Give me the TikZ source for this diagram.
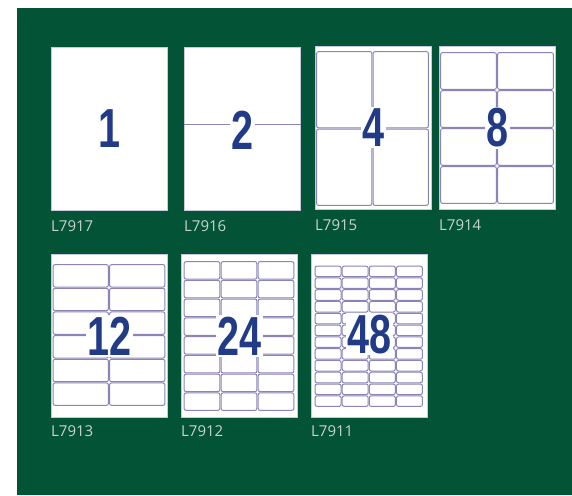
\documentclass[tikz,border=0pt]{standalone}
\usepackage{fontspec}
\setsansfont{Open Sans}
\newfontfamily\numfont[FakeStretch=0.72]{Liberation Sans}
\usepackage{tikz}
\usetikzlibrary{positioning}
\definecolor{cGreen}{HTML}{035437}
\definecolor{cNavy}{HTML}{213B86}
\definecolor{cLine}{HTML}{8A84BA}
\definecolor{cCode}{HTML}{C9D3CE}
\tikzset{
  sheet/.style={
    rectangle, draw=cLine!45, line width=0.6pt, fill=white,
    minimum width=116pt, minimum height=163pt, inner sep=0pt,
    anchor=north west
  },
  cell/.style={draw=cLine, line width=1pt, rounded corners=2pt},
  num/.style={
    font={\numfont\bfseries\fontsize{55pt}{55pt}\selectfont},
    text=cNavy, fill=white, inner sep=1.5pt
  },
  code/.style={
    font={\sffamily\fontsize{15pt}{15pt}\selectfont},
    text=cCode, inner sep=0pt
  },
}
% grid of labels: x0, y0, x1, y1, columns, rows
\newcommand{\cellgrid}[6]{%
  \pgfmathsetmacro\cw{(#3-#1)/#5}%
  \pgfmathsetmacro\ch{(#4-#2)/#6}%
  \foreach \i in {1,...,#5}
    \foreach \j in {1,...,#6}
      \draw[cell] ({#1+(\i-1)*\cw+0.6}, {#2+(\j-1)*\ch+0.6})
        rectangle ({#1+\i*\cw-0.6}, {#2+\j*\ch-0.6});
}
\begin{document}
\begin{tikzpicture}[x=1pt, y=-1pt]

  \useasboundingbox (0,0) rectangle (572,495);
  \fill[cGreen] (17,8) rectangle (572,495);

  % Sheets
  \node[sheet] (s1) at (51,47) {};
  \node[sheet] (s2) at (184,47) {};
  \node[sheet] (s3) at (315,46) {};
  \node[sheet] (s4) at (439,46) {};
  \node[sheet] (s5) at (51,254) {};
  \node[sheet] (s6) at (181,254) {};
  \node[sheet] (s7) at (311,254) {};

  % Label grids
  \draw[cLine, line width=0.8pt] (s2.west |- 0,124) -- (s2.east |- 0,124);
  \cellgrid{316}{51}{429}{206}{2}{2}
  \cellgrid{440}{52}{554}{204}{2}{4}
  \cellgrid{52.5}{264}{165.5}{406}{2}{6}
  \cellgrid{183.5}{261}{294.5}{411}{3}{8}
  \cellgrid{314.5}{265.5}{423}{407}{4}{12}

  % Counts
  \node[num] (n1) at (s1.center) {1};
  \node[num] (n2) at ([yshift=-1.5pt]s2.center) {2};
  \node[num] (n3) at (s3.center) {4};
  \node[num] (n4) at (s4.center) {8};
  \node[num] (n5) at (s5.center) {12};
  \node[num] (n6) at (s6.center) {24};
  \node[num] (n7) at ([yshift=1.5pt]s7.center) {48};

  % Codes
  \node[code, below right=9.5pt and 0pt of s1.south west] (c1) {L7917};
  \node[code, below right=9.5pt and 0pt of s2.south west] (c2) {L7916};
  \node[code, below right=9.5pt and 0pt of s3.south west] (c3) {L7915};
  \node[code, below right=9.5pt and 0pt of s4.south west] (c4) {L7914};
  \node[code, below right=8pt and 0pt of s5.south west] (c5) {L7913};
  \node[code, below right=8pt and 0pt of s6.south west] (c6) {L7912};
  \node[code, below right=8pt and 0pt of s7.south west] (c7) {L7911};

\end{tikzpicture}
\end{document}
